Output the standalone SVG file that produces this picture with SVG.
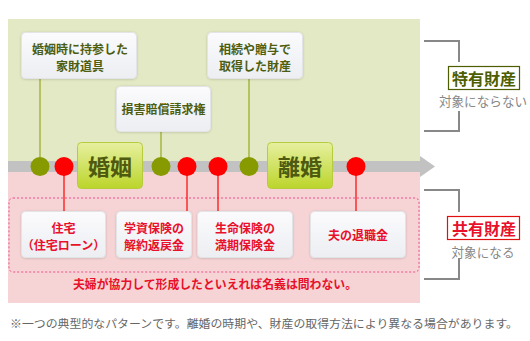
<svg xmlns="http://www.w3.org/2000/svg" width="530" height="341" viewBox="0 0 530 341">
<defs>
<linearGradient id="boxg" x1="0" y1="0" x2="0" y2="1"><stop offset="0" stop-color="#fbfbfd"/><stop offset="1" stop-color="#eceef2"/></linearGradient>
<linearGradient id="evg" x1="0" y1="0" x2="0" y2="1"><stop offset="0" stop-color="#e6f0a0"/><stop offset="1" stop-color="#bcd52a"/></linearGradient>
<filter id="sh" x="-10%" y="-10%" width="120%" height="130%"><feDropShadow dx="0" dy="0.5" stdDeviation="1" flood-color="#000" flood-opacity="0.18"/></filter>
</defs>
<style>
text{font-family:"Noto Sans CJK JP","Noto Sans",sans-serif;text-anchor:middle;dominant-baseline:central}
.box{fill:url(#boxg);stroke:#e2e4e8;stroke-width:1;filter:url(#sh)}
.gt{fill:#4d5e10;font-size:12px;font-weight:bold}
.rt{fill:#e8102a;font-size:12px;font-weight:bold}
.ev{fill:url(#evg);stroke:#b7cc3c;stroke-width:1}
.evt{fill:#4d5a10;font-size:22px;font-weight:bold}
.gd{fill:#879a00}
.rd{fill:#ff0000}
.gl{stroke:#879a00;stroke-width:1;fill:none}
.rl{stroke:#ff0000;stroke-width:1.2;fill:none}
.br{stroke:#888;stroke-width:2;fill:none}
.sub{fill:#888;font-size:12.6px}
</style>
<rect x="8" y="19" width="412" height="148" fill="#e3e9c4"/>
<rect x="8" y="166" width="412" height="137" fill="#f6d4d5"/>
<g id="timeline">
<rect x="8" y="161" width="412" height="11" fill="#c2c2c2"/>
<polygon points="420,156 435,166.5 420,177" fill="#c2c2c2"/>
</g>
<rect x="9" y="198" width="410" height="74" rx="4" fill="none" stroke="#ec4c8c" stroke-width="1" stroke-dasharray="2,2"/>
<g id="connectors">
<line class="gl" x1="40" y1="79" x2="40" y2="166"/>
<line class="gl" x1="161" y1="132" x2="161" y2="166"/>
<line class="gl" x1="249" y1="79" x2="249" y2="166"/>
<line class="rl" x1="64" y1="166" x2="64" y2="211"/>
<line class="rl" x1="187" y1="166" x2="187" y2="211"/>
<line class="rl" x1="218" y1="166" x2="218" y2="212"/>
<line class="rl" x1="356" y1="166" x2="356" y2="212"/>
</g>
<g id="dots">
<circle class="gd" cx="40" cy="166.5" r="9.5"/>
<circle class="rd" cx="64" cy="166.5" r="9.5"/>
<circle class="gd" cx="161" cy="166.5" r="9.5"/>
<circle class="rd" cx="187" cy="166.5" r="9.5"/>
<circle class="rd" cx="218" cy="166.5" r="9.5"/>
<circle class="gd" cx="249" cy="166.5" r="9.5"/>
<circle class="rd" cx="356" cy="166.5" r="9.5"/>
</g>
<g id="marriage"><rect class="ev" x="77.5" y="142.5" width="65" height="46" rx="4"/><text class="evt" x="110" y="165">婚姻</text></g>
<g id="divorce"><rect class="ev" x="267.5" y="142.5" width="65" height="46" rx="4"/><text class="evt" x="300" y="165">離婚</text></g>
<g id="t1"><rect class="box" x="21.5" y="32.5" width="115" height="46" rx="4"/><text class="gt" x="80" y="48.5">婚姻時に持参した</text><text class="gt" x="80" y="65.5">家財道具</text></g>
<g id="t2"><rect class="box" x="116.5" y="86.5" width="94" height="45" rx="4"/><text class="gt" x="163.5" y="108.5">損害賠償請求権</text></g>
<g id="t3"><rect class="box" x="207.5" y="32.5" width="95" height="46" rx="4"/><text class="gt" x="255" y="48.5">相続や贈与で</text><text class="gt" x="255" y="65.5">取得した財産</text></g>
<g id="b1"><rect class="box" x="21.5" y="211.5" width="84" height="46" rx="4"/><text class="rt" x="63.5" y="227.5">住宅</text><text class="rt" x="63.5" y="244.5">（住宅ローン）</text></g>
<g id="b2"><rect class="box" x="116.5" y="211.5" width="75" height="46" rx="4"/><text class="rt" x="154" y="227.5">学資保険の</text><text class="rt" x="154" y="244.5">解約返戻金</text></g>
<g id="b3"><rect class="box" x="197.5" y="211.5" width="95" height="46" rx="4"/><text class="rt" x="245" y="227.5">生命保険の</text><text class="rt" x="245" y="244.5">満期保険金</text></g>
<g id="b4"><rect class="box" x="310.5" y="211.5" width="95" height="46" rx="4"/><text class="rt" x="358" y="234">夫の退職金</text></g>
<text x="215" y="283" fill="#e8102a" font-size="12" font-weight="bold" textLength="284" lengthAdjust="spacingAndGlyphs">夫婦が協力して形成したといえれば名義は問わない。</text>
<g id="tokuyu">
<polyline class="br" points="424,41 459,41 459,62"/>
<polyline class="br" points="459,111 459,131 424,131"/>
<rect x="448.5" y="66.5" width="71" height="23" fill="#fff" stroke="#4d5e00" stroke-width="1.2"/>
<text x="484" y="78" fill="#4d5e00" font-size="16" font-weight="bold">特有財産</text>
<text class="sub" x="483" y="100">対象にならない</text>
</g>
<g id="kyoyu">
<polyline class="br" points="424,190 459,190 459,212"/>
<polyline class="br" points="459,258 459,279 424,279"/>
<rect x="447.5" y="216.5" width="72" height="23" fill="#fff" stroke="#e01010" stroke-width="1.2"/>
<text x="484" y="228" fill="#e8102a" font-size="16" font-weight="bold">共有財産</text>
<text class="sub" x="483" y="251">対象になる</text>
</g>
<text x="264" y="323" fill="#666" font-size="11.5" textLength="508" lengthAdjust="spacingAndGlyphs">※一つの典型的なパターンです。離婚の時期や、財産の取得方法により異なる場合があります。</text>
</svg>
